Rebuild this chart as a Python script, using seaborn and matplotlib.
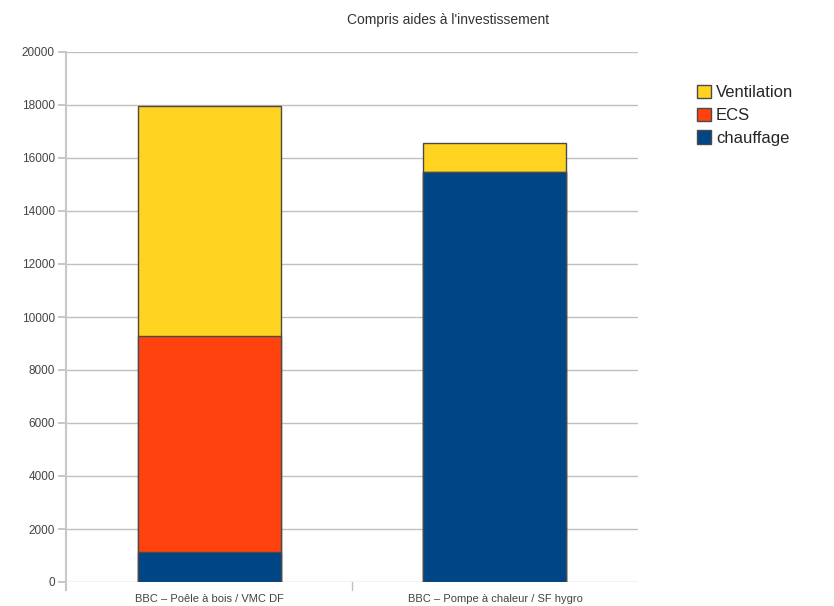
import matplotlib
matplotlib.use("Agg")
import matplotlib.pyplot as plt
import seaborn as sns
import numpy as np
import pandas as pd
from matplotlib.patches import Patch

categories = ["BBC – Poêle à bois / VMC DF", "BBC – Pompe à chaleur / SF hygro"]
chauffage = [1150, 15470]
ecs = [8130, 0]
ventilation = [8680, 1100]
yticks = list(range(0, 20001, 2000))

series_names = ["chauffage", "ECS", "Ventilation"]
colors = {"chauffage": "#004586", "ECS": "#FF420E", "Ventilation": "#FFD320"}

sns.set_theme(style="white")
plt.rcParams["font.family"] = ["Liberation Sans", "DejaVu Sans"]

fig = plt.figure(figsize=(8.34, 6.06), dpi=100)
ax = fig.add_axes([66 / 834, 1 - 582 / 606, (638 - 66) / 834, (582 - 52) / 606])

df = pd.DataFrame({"cat": categories, "chauffage": chauffage, "ECS": ecs,
                   "Ventilation": ventilation})
df["c1"] = df["chauffage"]
df["c2"] = df["c1"] + df["ECS"]
df["c3"] = df["c2"] + df["Ventilation"]

# draw cumulative totals from the top layer down so each segment shows
for col, name in [("c3", "Ventilation"), ("c2", "ECS"), ("c1", "chauffage")]:
    sns.barplot(data=df, x="cat", y=col, color=colors[name], width=0.5,
                edgecolor="#4a4a4a", linewidth=1.0, saturation=1, ax=ax,
                zorder=3)

ax.set_ylim(0, 20000)
ax.set_xlim(-0.5, 1.5)
ax.set_yticks(yticks)
ax.set_yticklabels([str(v) for v in yticks], fontsize=8.5, color="#444444")
ax.set_xticks([0, 1])
ax.set_xticklabels(categories, fontsize=8, color="#444444")
ax.set_xlabel("")
ax.set_ylabel("")
ax.yaxis.grid(True, color="#c0c0c0", linewidth=1.0, zorder=0)
ax.set_axisbelow(True)
for s in ["top", "right", "bottom"]:
    ax.spines[s].set_visible(False)
ax.spines["left"].set_color("#c8c8c8")
ax.spines["left"].set_linewidth(1.5)
ax.spines["left"].set_bounds(-300, 20000)
ax.tick_params(axis="y", left=True, length=6, color="#c0c0c0", pad=2)
ax.tick_params(axis="x", bottom=False, pad=3)
# small separator tick between the categories
ax.plot([0.5, 0.5], [0, -300], color="#c0c0c0", lw=1, clip_on=False)

fig.text(448 / 834, 1 - 20 / 606, "Compris aides à l'investissement",
         ha="center", va="center", fontsize=10, color="#333333")

handles = [Patch(facecolor=colors[n], edgecolor="#4a4a4a", linewidth=1.0, label=n)
           for n in ["Ventilation", "ECS", "chauffage"]]
fig.legend(handles=handles, loc="upper left", bbox_to_anchor=(690 / 834, 1 - 78 / 606),
           frameon=False, fontsize=12, handlelength=0.85, handleheight=0.85,
           handletextpad=0.3, labelspacing=0.45, borderaxespad=0)

fig.savefig("out.png", dpi=100, facecolor="white")
